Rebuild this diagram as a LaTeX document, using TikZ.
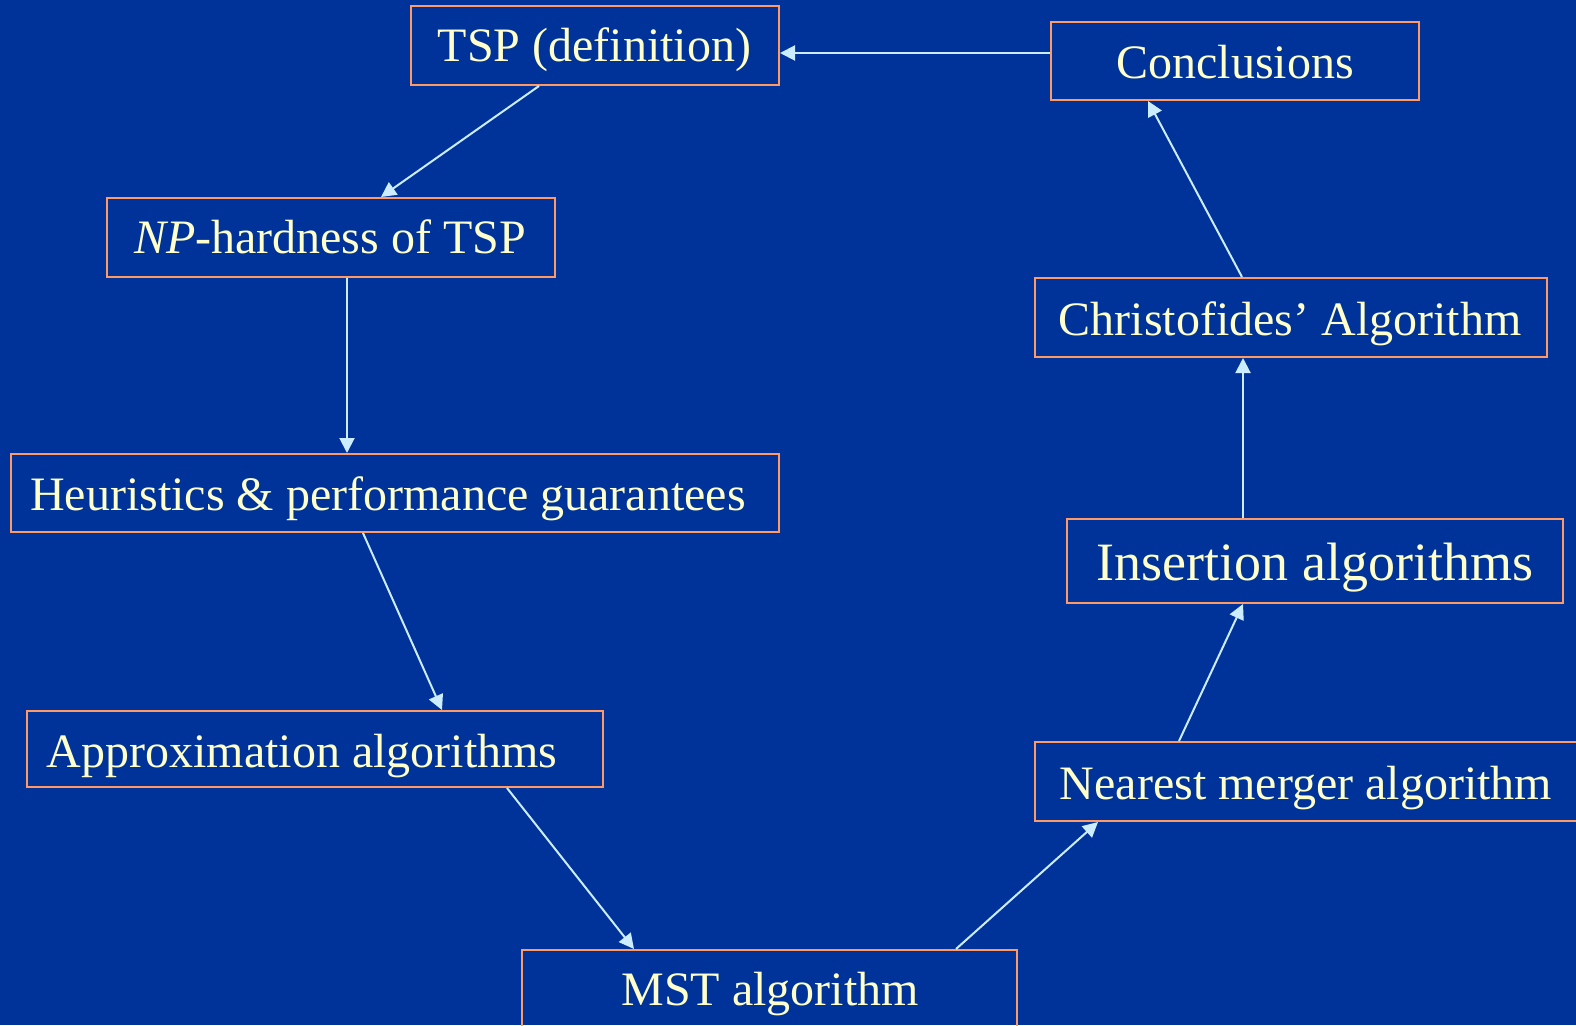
\documentclass[tikz,border=0pt]{standalone}
\usepackage{fontspec}
\setmainfont{Liberation Serif}
\usetikzlibrary{arrows.meta}
\definecolor{slidebg}{HTML}{003399}
\definecolor{boxline}{HTML}{FF9966}
\definecolor{boxtext}{HTML}{FFFFCC}
\definecolor{arrowblue}{HTML}{CCECFF}
\tikzset{
  topic/.style={draw=boxline, line width=2pt, inner sep=0pt, rectangle},
  caption/.style={anchor=base, inner sep=0pt, text=boxtext, font=\fontsize{48}{58}\selectfont},
  bigcaption/.style={caption, font=\fontsize{54}{64}\selectfont},
  flow/.style={draw=arrowblue, line width=2pt, -{Triangle[length=15pt,width=15pt]}, arrowblue},
}
\begin{document}
\begin{tikzpicture}[x=1pt, y=-1pt]
\clip (0,0) rectangle (1576,1025);
\fill[slidebg] (0,0) rectangle (1576,1025);

% topic boxes
\node[topic, minimum width=368pt, minimum height=79pt] (tsp)    at (595,45.5)   {};
\node[topic, minimum width=368pt, minimum height=78pt] (concl)  at (1235,61)    {};
\node[topic, minimum width=448pt, minimum height=79pt] (np)     at (331,237.5)  {};
\node[topic, minimum width=768pt, minimum height=78pt] (heur)   at (395,493)    {};
\node[topic, minimum width=512pt, minimum height=79pt] (chris)  at (1291,317.5) {};
\node[topic, minimum width=496pt, minimum height=84pt] (ins)    at (1315,561)   {};
\node[topic, minimum width=576pt, minimum height=76pt] (approx) at (315,749)    {};
\node[topic, minimum width=555pt, minimum height=79pt] (near)   at (1312.5,781.5) {};
\node[topic, minimum width=495pt, minimum height=90pt] (mst)    at (769.5,995)  {};

% box titles
\node[caption] (tspT)    at (594.5,62)  {TSP (definition)};
\node[caption] (conclT)  at (1235,78.5) {Conclusions};
\node[caption] (npT)     at (330,253)   {\textit{NP}-hardness of TSP};
\node[caption] (heurT)   at (388,510)   {Heuristics \& performance guarantees};
\node[caption] (chrisT)  at (1290,335)  {Christofides’ Algorithm};
\node[bigcaption] (insT) at (1315,580)  {Insertion algorithms};
\node[caption] (approxT) at (302,767)   {Approximation algorithms};
\node[caption] (nearT)   at (1306,799)  {Nearest merger algorithm};
\node[caption] (mstT)    at (770,1005)  {MST algorithm};

% connectors
\draw[flow] ([yshift=8pt]concl.west)      -- ([yshift=-7.5pt]tsp.east);
\draw[flow] ([xshift=-56pt]tsp.south)     -- ([xshift=50pt]np.north);
\draw[flow] ([xshift=16pt]np.south)       -- ([xshift=-48pt]heur.north);
\draw[flow] ([xshift=-32pt]heur.south)    -- ([xshift=127pt]approx.north);
\draw[flow] ([xshift=192pt]approx.south)  -- ([xshift=-135.5pt]mst.north);
\draw[flow] ([xshift=186.5pt]mst.north)   -- ([xshift=-214.5pt]near.south);
\draw[flow] ([xshift=-133.5pt]near.north) -- ([xshift=-72pt]ins.south);
\draw[flow] ([xshift=-72pt]ins.north)     -- ([xshift=-48pt]chris.south);
\draw[flow] ([xshift=-49pt]chris.north)   -- ([xshift=-87pt]concl.south);
\end{tikzpicture}
\end{document}
